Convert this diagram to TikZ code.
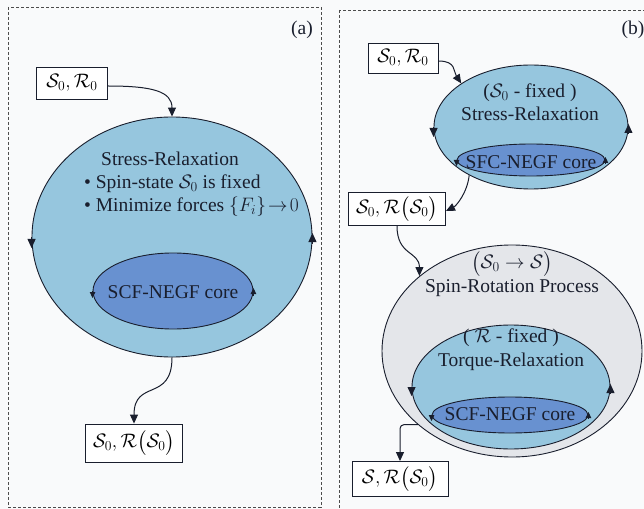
\documentclass[tikz,border=0pt]{standalone}
\usepackage{fix-cm}
\usepackage{amsmath}
\usepackage{fontspec}
\setmainfont{Liberation Serif}
\usetikzlibrary{shapes.geometric,arrows.meta,calc}
\definecolor{lblue}{RGB}{150,198,222}
\definecolor{dblue}{RGB}{104,145,208}
\definecolor{lgray}{RGB}{228,230,234}
\definecolor{bgc}{RGB}{249,250,251}
\definecolor{ink}{RGB}{25,30,45}
\tikzset{
  txt/.style={font=\fontsize{19.5bp}{19bp}\selectfont, inner sep=0pt, text=ink},
  box/.style={draw=ink, fill=white, line width=0.9bp, inner sep=0pt, font=\fontsize{19.5bp}{19bp}\selectfont},
  ell/.style={ellipse, draw=ink, line width=0.9bp, inner sep=0pt},
  conn/.style={draw=ink, line width=1bp, -{Triangle[length=9bp,width=8bp]}},
  mk/.style={draw=ink, line width=0.9bp, -{Triangle[length=9bp,width=8bp]}},
  mks/.style={draw=ink, line width=0.9bp, -{Triangle[length=6bp,width=5.5bp]}},
  frame/.style={draw=gray!60!black, line width=0.6bp, dash pattern=on 3bp off 2bp},
}
\begin{document}
\begin{tikzpicture}[x=1bp,y=-1bp]
\useasboundingbox (0,0) rectangle (644,509);
\fill[bgc] (0,0) rectangle (644,509);
\clip (0,0) rectangle (644,509);
% frames
\draw[frame] (8,7) rectangle (321,507);
\draw[frame] (339,10) rectangle (660,520);
% ---------- panel (a)
\node[txt] (la) at (302,30) {(a)};
\node[ell, fill=lblue, minimum width=280bp, minimum height=240bp] (E1) at (172,237) {};
\node[ell, fill=dblue, minimum width=160bp, minimum height=76bp] (E1c) at (173,291) {};
\node[txt] (t1) at (170,159) {Stress-Relaxation};
\node[txt, anchor=base west] (t2a) at (84,189) {• Spin-state $\mathcal{S}_0$ is fixed};
\node[txt, anchor=base west] (t2b) at (84,212) {• Minimize forces $\{F_i\}\!\rightarrow\! 0$};
\node[txt] (t3) at (173,292) {SCF-NEGF core};
\node[box, minimum width=71bp, minimum height=32bp] (A0) at (72,83) {$\mathcal{S}_0,\mathcal{R}_0$};
\node[box, minimum width=97bp, minimum height=38bp] (A1) at (134,443) {$\mathcal{S}_0,\mathcal{R}\bigl(\mathcal{S}_0\bigr)$};
\draw[conn] ([yshift=-3bp]A0.east) .. controls +(45,0) and +(0,-25) .. (E1.north);
\draw[conn] (E1.south) .. controls +(0,45) and +(0,-45) .. (A1.north);
\draw[mk] (E1.west) -- ++(0,11);
\draw[mk] (E1.east) ++(0,7) -- ++(0,-11);
\draw[mks] (E1c.west) -- ++(0,7);
\draw[mks] (E1c.east) ++(0,5) -- ++(0,-8);
% ---------- panel (b)
\node[txt] (lb) at (633,30) {(b)};
\node[ell, fill=lblue, minimum width=194bp, minimum height=124bp] (E2) at (531,127) {};
\node[ell, fill=dblue, minimum width=148bp, minimum height=32bp] (E2c) at (531,160) {};
\node[txt] (u1) at (530,93) {($\mathcal{S}_0$ - fixed )};
\node[txt] (u2) at (530,114) {Stress-Relaxation};
\node[txt] (u3) at (531,162) {SFC-NEGF core};
\node[box, minimum width=70bp, minimum height=30bp] (B0) at (403,58) {$\mathcal{S}_0,\mathcal{R}_0$};
\node[box, minimum width=97bp, minimum height=33bp] (B1) at (397,209) {$\mathcal{S}_0,\mathcal{R}\bigl(\mathcal{S}_0\bigr)$};
\draw[conn] ([yshift=-3bp]B0.east) .. controls +(18,0) and +(-8,-12) .. (E2.148);
\draw[conn] (E2.218) .. controls +(-2,18) and +(10,-5) .. ([yshift=-2bp]B1.east);
\draw[mk] (E2.west) -- ++(0,10);
\draw[mk] (E2.east) ++(0,7) -- ++(0,-10);
\draw[mks] (E2c.west) -- ++(0,6);
\draw[mks] (E2c.east) ++(0,4) -- ++(0,-7);
\node[ell, fill=lgray, minimum width=260bp, minimum height=212bp] (E3) at (512,351) {};
\node[ell, fill=lblue, minimum width=198bp, minimum height=124bp] (E4) at (511,387) {};
\node[ell, fill=dblue, minimum width=156bp, minimum height=36bp] (E5) at (510,415) {};
\node[txt] (v1) at (512,264) {$\bigl(\mathcal{S}_0\rightarrow\mathcal{S}\bigr)$};
\node[txt] (v2) at (512,288) {Spin-Rotation Process};
\node[txt] (v3) at (511,338) {( $\mathcal{R}$ - fixed )};
\node[txt] (v4) at (511,362) {Torque-Relaxation};
\node[txt] (v5) at (510,414) {SCF-NEGF core};
\draw[conn] (B1.south) .. controls +(0,30) and +(0,-25) .. (E3.141);
\node[box, minimum width=96bp, minimum height=35bp] (B2) at (400,479) {$\mathcal{S},\mathcal{R}\bigl(\mathcal{S}_0\bigr)$};
\draw[conn, rounded corners=4bp] (E3.218) -- (B2.north |- E3.218) -- (B2.north);
\draw[mk] (E4.west) -- ++(0,9);
\draw[mk] (E4.east) ++(0,7) -- ++(0,-10);
\draw[mks] (E5.west) -- ++(0,6);
\draw[mks] (E5.east) ++(0,4) -- ++(0,-7);
\end{tikzpicture}
\end{document}
